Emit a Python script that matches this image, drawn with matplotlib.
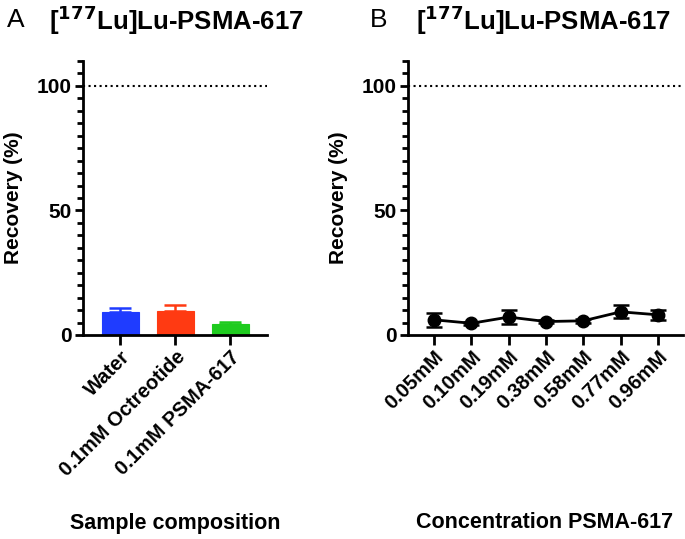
import matplotlib.pyplot as plt
import numpy as np
from matplotlib.ticker import MultipleLocator

plt.rcParams['font.family'] = ['Liberation Sans', 'DejaVu Sans']
plt.rcParams['font.weight'] = 'bold'

# panel A data
samples = ["Water", "0.1mM Octreotide", "0.1mM PSMA-617"]
sample_recovery = [9.4, 9.8, 4.3]
sample_err = [1.6, 2.1, 0.8]
sample_colors = ["#1f3cff", "#ff3a12", "#1ecb1e"]

# panel B data
conc = ["0.05mM", "0.10mM", "0.19mM", "0.38mM", "0.58mM", "0.77mM", "0.96mM"]
conc_recovery = [6.1, 4.7, 7.2, 5.4, 5.7, 9.3, 8.1]
conc_err = [2.7, 0.5, 2.9, 0.5, 0.7, 2.6, 2.1]

fig = plt.figure(figsize=(6.85, 5.39), dpi=100)
axA = fig.add_axes([83 / 685, 1 - 335 / 539, 184 / 685, 274 / 539])
axB = fig.add_axes([408 / 685, 1 - 335 / 539, 275 / 685, 274 / 539])

lw = 2.0


def style_axis(ax):
    for s in ['top', 'right']:
        ax.spines[s].set_visible(False)
    for s in ['left', 'bottom']:
        ax.spines[s].set_linewidth(lw)
    ax.set_ylim(0, 110)
    ax.yaxis.set_major_locator(MultipleLocator(50))
    ax.yaxis.set_minor_locator(MultipleLocator(5))
    ax.tick_params(axis='y', which='major', length=6, width=lw, labelsize=15, pad=2)
    ax.tick_params(axis='y', which='minor', length=4, width=lw)
    ax.tick_params(axis='x', which='major', length=7, width=lw, labelsize=14.5, pad=2)
    ax.set_ylabel("Recovery (%)", fontsize=15, fontweight='bold', labelpad=10)
    for lab in ax.get_yticklabels():
        lab.set_fontweight('bold')


# Panel A
x = np.arange(len(samples))
axA.bar(x, sample_recovery, width=0.67, color=sample_colors, edgecolor=sample_colors,
        linewidth=0.8, zorder=2)
for xi, v, e, c in zip(x, sample_recovery, sample_err, sample_colors):
    axA.errorbar(xi, v, yerr=[[0], [e]], color=c, capsize=8, elinewidth=1.8,
                 capthick=1.8, zorder=1)
axA.set_xlim(-0.68, 2.67)
axA.axhline(100, color='black', linestyle=':', linewidth=1.5)
style_axis(axA)
axA.set_xticks(x)
axA.set_xticklabels(samples, rotation=45, ha='right', rotation_mode='anchor',
                    fontweight='bold')
axA.set_yticks([0, 50, 100])

# Panel B
xb = np.arange(len(conc))
axB.errorbar(xb, conc_recovery, yerr=conc_err, color='black', marker='o', markersize=9,
             linewidth=2, elinewidth=1.8, capsize=6, capthick=1.8)
axB.set_xlim(-0.7, 6.67)
axB.axhline(100, color='black', linestyle=':', linewidth=1.5)
style_axis(axB)
axB.set_xticks(xb)
axB.set_xticklabels(conc, rotation=45, ha='right', rotation_mode='anchor',
                    fontweight='bold')
axB.set_yticks([0, 50, 100])

# titles and labels
fig.text(176 / 685, 1 - 20 / 539, r"[$^{\mathbf{177}}$Lu]Lu-PSMA-617", fontsize=18.5,
         fontweight='bold', ha='center', va='center')
fig.text(543 / 685, 1 - 20 / 539, r"[$^{\mathbf{177}}$Lu]Lu-PSMA-617", fontsize=18.5,
         fontweight='bold', ha='center', va='center')
fig.text(7 / 685, 1 - 20 / 539, "A", fontsize=19, fontweight='normal', ha='left', va='center')
fig.text(370 / 685, 1 - 20 / 539, "B", fontsize=19, fontweight='normal', ha='left', va='center')
fig.text(175 / 685, 1 - 523 / 539, "Sample composition", fontsize=15.5, fontweight='bold',
         ha='center', va='center')
fig.text(545 / 685, 1 - 523 / 539, "Concentration PSMA-617", fontsize=15.5, fontweight='bold',
         ha='center', va='center')

fig.savefig("out.png", dpi=100)
